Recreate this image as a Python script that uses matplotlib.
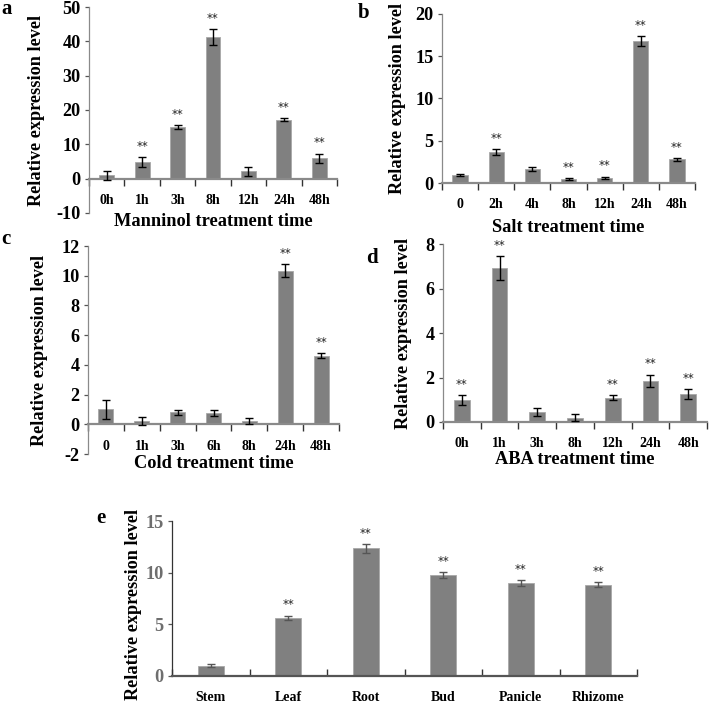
import matplotlib
matplotlib.use("Agg")
import matplotlib.pyplot as plt
import numpy as np

plt.rcParams['font.family'] = ['Liberation Serif', 'DejaVu Serif']
plt.rcParams['font.weight'] = 'bold'

# ---------------- data ----------------
a_cats = ["0h", "1h", "3h", "8h", "12h", "24h", "48h"]
a_vals = [1.0, 4.8, 15.0, 41.3, 2.2, 17.2, 6.0]
a_errs = [1.3, 1.5, 0.6, 2.3, 1.3, 0.5, 1.3]
a_star = [False, True, True, True, False, True, True]

b_cats = ["0", "2h", "4h", "8h", "12h", "24h", "48h"]
b_vals = [1.0, 3.7, 1.7, 0.45, 0.6, 16.8, 2.8]
b_errs = [0.12, 0.35, 0.25, 0.15, 0.15, 0.6, 0.15]
b_star = [False, True, False, True, True, True, True]

c_cats = ["0", "1h", "3h", "6h", "8h", "24h", "48h"]
c_vals = [1.0, 0.22, 0.8, 0.78, 0.22, 10.35, 4.62]
c_errs = [0.65, 0.25, 0.15, 0.2, 0.18, 0.45, 0.15]
c_star = [False, False, False, False, False, True, True]

d_cats = ["0h", "1h", "3h", "8h", "12h", "24h", "48h"]
d_vals = [1.0, 6.92, 0.45, 0.2, 1.1, 1.85, 1.25]
d_errs = [0.22, 0.52, 0.17, 0.17, 0.12, 0.28, 0.22]
d_star = [True, True, False, False, True, True, True]

e_cats = ["Stem", "Leaf", "Root", "Bud", "Panicle", "Rhizome"]
e_vals = [1.0, 5.65, 12.35, 9.75, 9.0, 8.85]
e_errs = [0.15, 0.2, 0.45, 0.3, 0.28, 0.25]
e_star = [False, True, True, True, True, True]

YLABEL = "Relative expression level"

W, H = 709, 705
fig = plt.figure(figsize=(W / 100, H / 100), dpi=100)
renderer = fig.canvas.get_renderer()

def fit(s, target_px):
    """font size (pt) giving a bold serif string the wanted width in pixels"""
    t = fig.text(0, 0, s, fontsize=10, fontweight='bold')
    w = t.get_window_extent(renderer).width
    t.remove()
    return 10.0 * target_px / w

FS_YTICK = fit("50", 18)
FS_XTICK = fit("12h", 23.5)
FS_XLAB = fit("Manninol treatment time", 198)
FS_YLAB = fit(YLABEL, 192)
FS_E_XTICK = fit("Rhizome", 64)
FS_E_YTICK = fit("15", 18)

def rect(l, r, t, b):
    return [l / W, 1 - b / H, (r - l) / W, (b - t) / H]

def fx(x):
    return x / W

def fy(y):
    return 1 - y / H

BAR = '#808080'
AX = '#8a8a8a'

def panel(box, cats, vals, errs, stars, ylim, yticks, xlabel, xlab_y, ylab_x,
          letter, letter_xy, bw=0.42, fs_x=None, fs_y=None, tick_col='black',
          err_col='black', tick_up=False, ylab_y=None):
    fs_x = FS_XTICK if fs_x is None else fs_x
    fs_y = FS_YTICK if fs_y is None else fs_y
    ax = fig.add_axes(rect(*box))
    x = np.arange(len(cats))
    ax.bar(x, vals, width=bw, color=BAR, edgecolor='#a8a8a8', linewidth=0.6, zorder=2)
    ax.errorbar(x, vals, yerr=errs, fmt='none', ecolor=err_col, elinewidth=1.0,
                capsize=3, capthick=1.0, zorder=3)
    for xi, v, e, s in zip(x, vals, errs, stars):
        if s:
            ax.annotate("**", (xi, v + e), xytext=(0, 3), textcoords='offset points',
                        ha='center', va='bottom', fontsize=8.5, fontweight='normal',
                        family='DejaVu Sans', color='#222222')
    ax.set_xlim(-0.5, len(cats) - 0.5)
    ax.set_ylim(*ylim)
    ax.set_yticks(yticks)
    ax.set_yticklabels([str(t) for t in yticks], fontsize=fs_y, fontweight='bold', color=tick_col)
    ax.set_xticks(x)
    ax.set_xticklabels(cats, fontsize=fs_x, fontweight='bold', color=tick_col)
    ax.set_xticks(np.arange(len(cats) + 1) - 0.5, minor=True)
    ax.spines['top'].set_visible(False)
    ax.spines['right'].set_visible(False)
    ax.spines['bottom'].set_position(('data', 0))
    ax.spines['bottom'].set_color('#555555' if tick_up else AX)
    ax.spines['bottom'].set_linewidth(1.6)
    ax.spines['left'].set_color('#333333' if tick_up else AX)
    ax.spines['left'].set_linewidth(0.9)
    ax.tick_params(axis='x', which='major', length=0, pad=11)
    ax.tick_params(axis='x', which='minor', length=5, width=1.0,
                   color='#333333', direction='in' if tick_up else 'out')
    ax.tick_params(axis='y', length=3, width=0.9, color='#555555', pad=3)
    cx = (box[0] + box[1]) / 2
    if xlabel:
        fig.text(fx(cx), fy(xlab_y), xlabel, ha='center', va='center',
                 fontsize=FS_XLAB, fontweight='bold')
    if ylab_y is None:
        ylab_y = (box[2] + box[3]) / 2
    fig.text(fx(ylab_x), fy(ylab_y), YLABEL, rotation=90,
             ha='center', va='center', fontsize=FS_YLAB, fontweight='bold')
    fig.text(fx(letter_xy[0]), fy(letter_xy[1]), letter, ha='center', va='center',
             fontsize=15, fontweight='bold')
    return ax

panel((89, 337, 7, 213), a_cats, a_vals, a_errs, a_star, (-10, 50),
      [-10, 0, 10, 20, 30, 40, 50], "Manninol treatment time", 221, 37, "a", (7, 9))
panel((442, 695, 14, 183), b_cats, b_vals, b_errs, b_star, (0, 20),
      [0, 5, 10, 15, 20], "Salt treatment time", 227, 397, "b", (364, 13))
panel((88, 339, 246, 454), c_cats, c_vals, c_errs, c_star, (-2, 12),
      [-2, 0, 2, 4, 6, 8, 10, 12], "Cold treatment time", 464, 40, "c", (6, 239))
panel((443, 707, 244, 422), d_cats, d_vals, d_errs, d_star, (0, 8),
      [0, 2, 4, 6, 8], "ABA treatment time", 460, 403, "d", (372, 258))
panel((172, 637, 521, 676), e_cats, e_vals, e_errs, e_star, (0, 15),
      [0, 5, 10, 15], "", 720, 134, "e", (101, 518), bw=0.33,
      fs_x=FS_E_XTICK, fs_y=FS_E_YTICK,
      tick_col='#6e6e6e', err_col='#555555', tick_up=True, ylab_y=604)

fig.savefig("out.png", dpi=100)
